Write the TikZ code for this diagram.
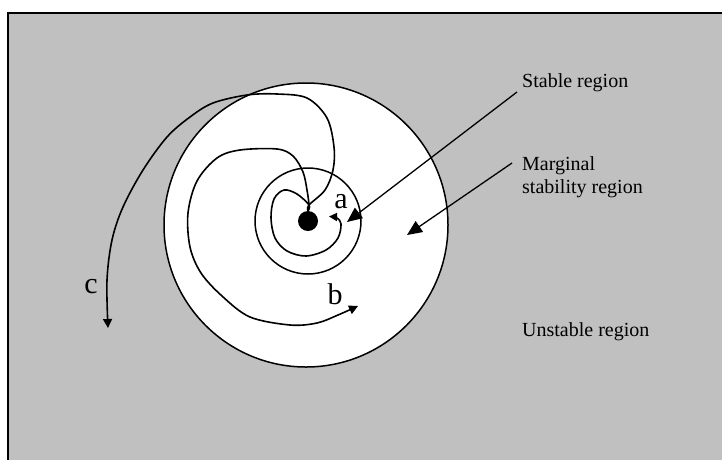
\documentclass[tikz,border=0pt]{standalone}
\usepackage{fontspec}
\setmainfont{Liberation Serif}
\usetikzlibrary{arrows.meta}
\definecolor{bggray}{RGB}{192,192,192}
\begin{document}
\begin{tikzpicture}[x=1pt,y=-1pt,
  curve/.style={line width=1.6pt, line join=round, line cap=round},
  smallhead/.style={-{Triangle[length=9pt,width=9pt]}},
  tinyhead/.style={-{Triangle[length=8pt,width=8pt]}},
  pointer/.style={line width=1.3pt, -{Triangle[length=15pt,width=13pt]}},
  regionlbl/.style={font=\fontsize{20}{23}\selectfont, inner sep=0pt, align=left, text=black},
  letterlbl/.style={font=\fontsize{30}{32}\selectfont, inner sep=0pt, text=black},
  ring/.style={circle, draw, line width=1.5pt, fill=white, inner sep=0pt}]
\useasboundingbox (0,0) rectangle (722,459);
\clip (0,0) rectangle (722,459);
\fill[white] (0,0) rectangle (722,459);
% background frame
\draw[fill=bggray, line width=1.2pt] (8,13) rectangle (740,480);
% regions
\node[ring, minimum size=284pt] (big) at (306,225) {};
\node[ring, minimum size=106pt] (small) at (308,221) {};
\node[circle, fill=black, inner sep=0pt, minimum size=20pt] (dot) at (308,221) {};
% labels
\node[regionlbl, anchor=base west] (stable) at (522,87) {Stable region};
\node[regionlbl, anchor=north west] (marg) at (522,156.5) {Marginal\\stability region};
\node[regionlbl, anchor=base west] (unstable) at (522,336) {Unstable region};
\node[letterlbl, anchor=base] (la) at (341,208) {a};
\node[letterlbl, anchor=base] (lb) at (335,304) {b};
\node[letterlbl, anchor=base] (lc) at (91,293) {c};
% pointer ends
\coordinate (stail) at (517,92);
\coordinate (stip) at (347,222);
\coordinate (mtail) at (512,163);
\coordinate (mtip) at (407,235);
\draw[pointer] (stail) -- (stip);
\draw[pointer] (mtail) -- (mtip);
% trajectories
\coordinate (j) at (309,205);
\draw[curve, tinyhead] plot[smooth, tension=0.55] coordinates {
  (dot.north) (j) (297,194) (284,190) (274,199) (271,218) (275,238) (287,251)
  (306,256) (326,250) (338,238) (341,224) (337,218) (329,216.5)};
\draw[curve, smallhead] plot[smooth, tension=0.55] coordinates {
  (dot.north) (j) (307,190) (303,172) (293,156) (277,149) (240,150) (217,158)
  (197,181) (188,213) (190,247) (201,273) (222,296) (250,317) (290,325)
  (317,323) (338,315) (358,306)};
\draw[curve, smallhead] plot[smooth, tension=0.55] coordinates {
  (dot.north) (j) (325,190) (333,170) (334,147) (327,118) (307,98) (277,94)
  (247,95) (213,103) (190,117) (167,137) (143,170) (123,207) (112,240)
  (107,280) (108,328)};
\end{tikzpicture}
\end{document}
